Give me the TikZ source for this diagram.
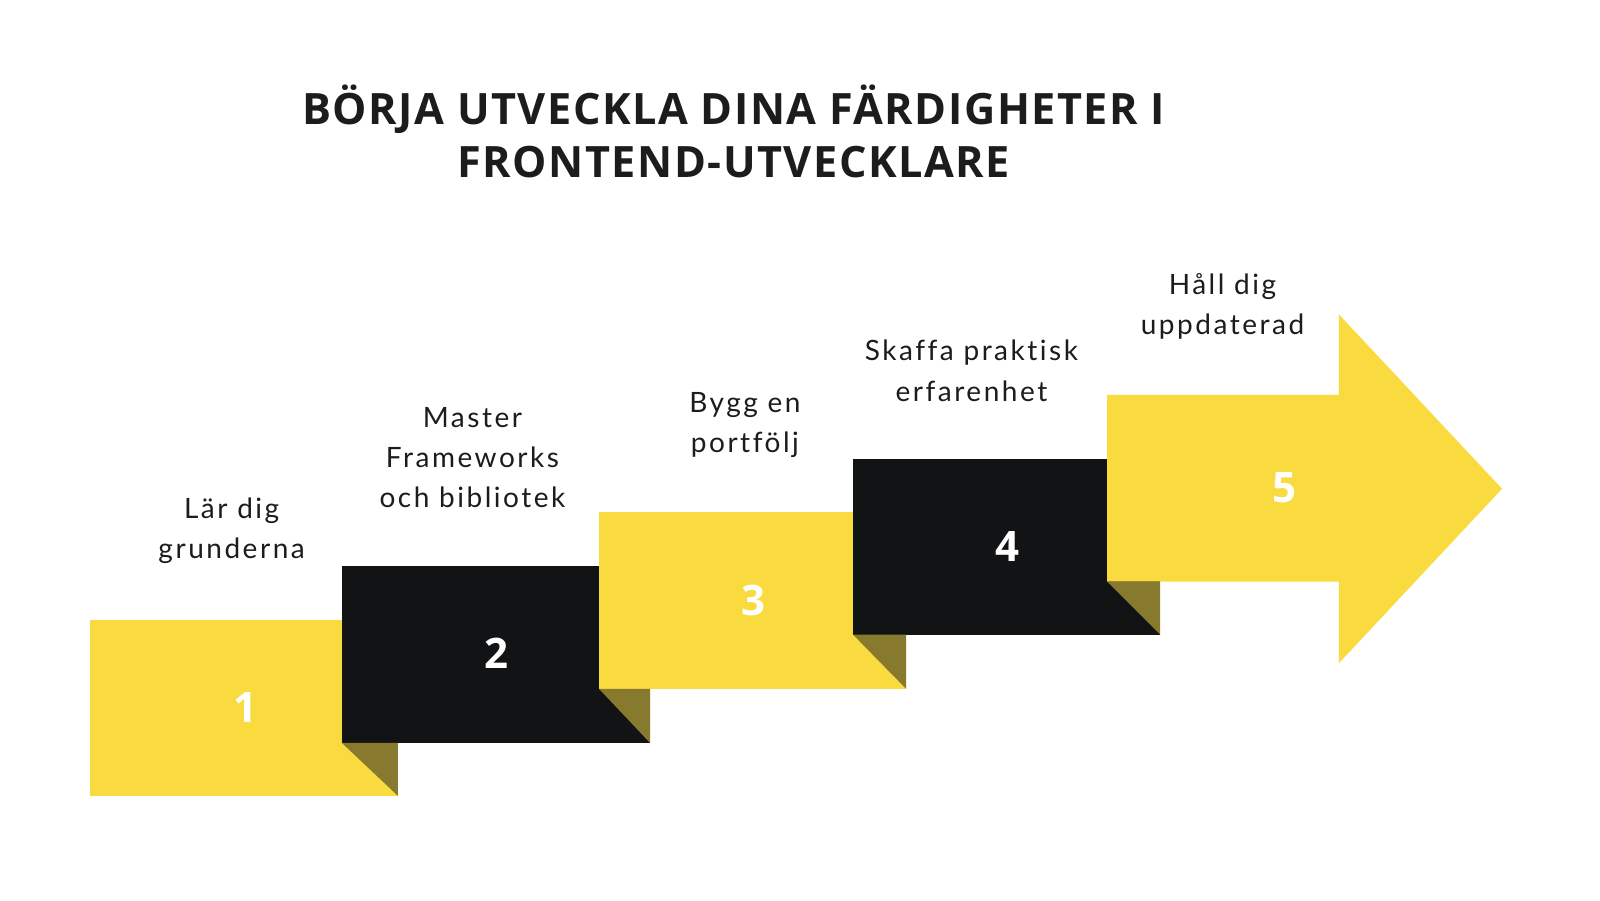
\documentclass[tikz,border=0pt]{standalone}
\usepackage{fontspec}
\setmainfont{Lato}[LetterSpace=9,Ligatures=NoCommon]
\newfontfamily\titlefont{Open Sans}[LetterSpace=3.5]
\newfontfamily\numfont{Open Sans}
\definecolor{stepyellow}{HTML}{F9DB40}
\definecolor{stepblack}{HTML}{121314}
\definecolor{stepfold}{HTML}{877A2E}
\definecolor{inkgray}{HTML}{1C1C1C}
\tikzset{
	steplabel/.style={align=center,text=inkgray,font=\fontsize{14}{20.2}\selectfont},
	stepnum/.style={text=white,font=\numfont\bfseries\fontsize{21}{21}\selectfont},
	titletext/.style={align=center,text=inkgray,font=\titlefont\bfseries\fontsize{21.6}{26.5}\selectfont}
}
\begin{document}
\begin{tikzpicture}[x=0.5102pt,y=-0.5102pt]
	\useasboundingbox (0,0) rectangle (1568,882);

	\fill[stepyellow] (88,608) rectangle (390,780);
	\fill[stepblack] (335,555) rectangle (637,728);
	\fill[stepfold] (335,728) -- (390,728) -- (390,780) -- cycle;
	\fill[stepyellow] (587,502) rectangle (888,675);
	\fill[stepfold] (587,675) -- (637,675) -- (637,728) -- cycle;
	\fill[stepblack] (836,450) rectangle (1137,622);
	\fill[stepfold] (836,622) -- (888,622) -- (888,675) -- cycle;
	\fill[stepyellow] (1085,387) -- (1312,387) -- (1312,308) -- (1472,479)
		-- (1312,650) -- (1312,570) -- (1085,570) -- cycle;
	\fill[stepfold] (1085,570) -- (1137,570) -- (1137,622) -- cycle;

	\node[stepnum] (num1) at (241,693) {1};
	\node[stepnum] (num2) at (487,640) {2};
	\node[stepnum] (num3) at (738,588) {3};
	\node[stepnum] (num4) at (987,536) {4};
	\node[stepnum] (num5) at (1259,478) {5};

	\node[steplabel] (lab1) at (227,520) {Lär dig\\grunderna};
	\node[steplabel] (lab2) at (463,448.5) {Master\\Frameworks\\och bibliotek};
	\node[steplabel] (lab3) at (730,416.5) {Bygg en\\portfölj};
	\node[steplabel] (lab4) at (952,363.5) {Skaffa praktisk\\erfarenhet};
	\node[steplabel] (lab5) at (1198,300.5) {Håll dig\\uppdaterad};

	\node[titletext] (title) at (719,128.5) {BÖRJA UTVECKLA DINA FÄRDIGHETER I\\FRONTEND-UTVECKLARE};
\end{tikzpicture}
\end{document}
